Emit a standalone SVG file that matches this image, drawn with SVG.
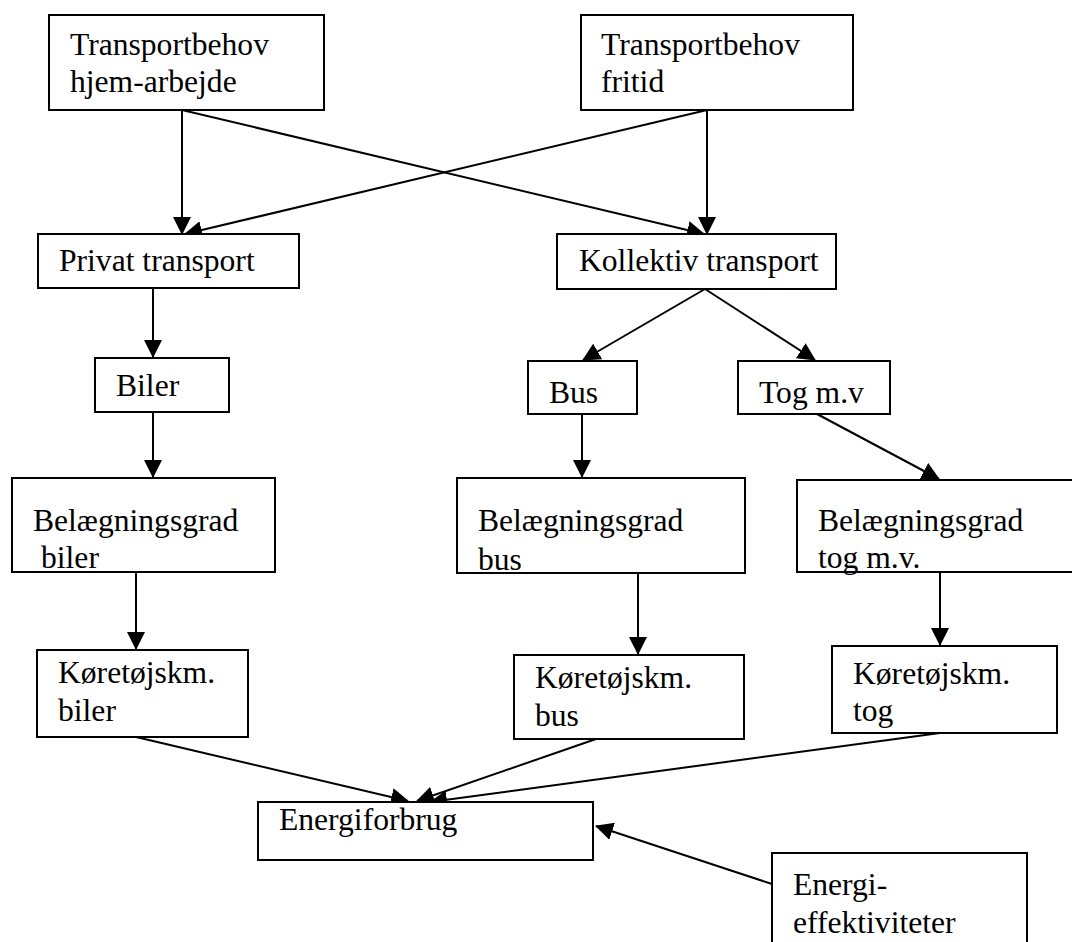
<svg xmlns="http://www.w3.org/2000/svg" width="1072" height="942" viewBox="0 0 1072 942">
  <style>
    .box { fill: #ffffff; stroke: #000000; stroke-width: 2; }
    .lbl { font-family: "Liberation Serif", "Times New Roman", serif; font-size: 31.6px; fill: #000000; }
    .edge { fill: none; stroke: #000000; stroke-width: 2; marker-end: url(#arrow); }
  </style>
  <defs>
    <marker id="arrow" viewBox="0 0 18 18" refX="17" refY="9" markerWidth="18" markerHeight="18" markerUnits="userSpaceOnUse" orient="auto">
      <path d="M0,0 L18,9 L0,18 Z" fill="#000000"/>
    </marker>
  </defs>
  <rect width="1072" height="942" fill="#ffffff"/>

  <!-- connectors -->
  <g id="connectors">
    <line class="edge" x1="182" y1="110" x2="182" y2="234"/>
    <line class="edge" x1="182" y1="110" x2="704" y2="234"/>
    <line class="edge" x1="707" y1="110" x2="185" y2="234"/>
    <line class="edge" x1="707" y1="110" x2="707" y2="234"/>
    <line class="edge" x1="153" y1="288" x2="153" y2="357"/>
    <line class="edge" x1="153" y1="412" x2="153" y2="477"/>
    <line class="edge" x1="705" y1="289" x2="583" y2="360"/>
    <line class="edge" x1="705" y1="289" x2="815" y2="360"/>
    <line class="edge" x1="582" y1="414" x2="582" y2="477"/>
    <line class="edge" x1="817" y1="414" x2="939" y2="479"/>
    <line class="edge" x1="136" y1="572" x2="136" y2="649"/>
    <line class="edge" x1="638" y1="573" x2="638" y2="654"/>
    <line class="edge" x1="940" y1="572" x2="940" y2="645"/>
    <line class="edge" x1="136" y1="737" x2="408" y2="801"/>
    <line class="edge" x1="596" y1="739" x2="417" y2="801"/>
    <line class="edge" x1="940" y1="733" x2="430" y2="802"/>
    <line class="edge" x1="772" y1="884" x2="596" y2="826"/>
  </g>

  <g id="n-hjem-arbejde">
    <rect class="box" x="49" y="15" width="275" height="95"/>
    <text class="lbl" x="70" y="55">Transportbehov</text>
    <text class="lbl" x="70" y="92">hjem-arbejde</text>
  </g>
  <g id="n-fritid">
    <rect class="box" x="581" y="15" width="272" height="95"/>
    <text class="lbl" x="601" y="55">Transportbehov</text>
    <text class="lbl" x="601" y="92">fritid</text>
  </g>
  <g id="n-privat">
    <rect class="box" x="38" y="234" width="261" height="54"/>
    <text class="lbl" x="59" y="271">Privat transport</text>
  </g>
  <g id="n-kollektiv">
    <rect class="box" x="557" y="234" width="279" height="55"/>
    <text class="lbl" x="579" y="271">Kollektiv transport</text>
  </g>
  <g id="n-biler">
    <rect class="box" x="95" y="358" width="134" height="54"/>
    <text class="lbl" x="116" y="396">Biler</text>
  </g>
  <g id="n-bus">
    <rect class="box" x="528" y="361" width="109" height="53"/>
    <text class="lbl" x="549" y="403">Bus</text>
  </g>
  <g id="n-tog">
    <rect class="box" x="738" y="361" width="152" height="53"/>
    <text class="lbl" x="759" y="403">Tog m.v</text>
  </g>
  <g id="n-bel-biler">
    <rect class="box" x="12" y="478" width="263" height="94"/>
    <text class="lbl" x="33" y="531">Belægningsgrad</text>
    <text class="lbl" x="41" y="568">biler</text>
  </g>
  <g id="n-bel-bus">
    <rect class="box" x="457" y="478" width="288" height="95"/>
    <text class="lbl" x="478" y="531">Belægningsgrad</text>
    <text class="lbl" x="478" y="570">bus</text>
  </g>
  <g id="n-bel-tog">
    <rect class="box" x="797" y="480" width="285" height="92"/>
    <text class="lbl" x="818" y="531">Belægningsgrad</text>
    <text class="lbl" x="818" y="568">tog m.v.</text>
  </g>
  <g id="n-km-biler">
    <rect class="box" x="37" y="650" width="211" height="87"/>
    <text class="lbl" x="58" y="683">Køretøjskm.</text>
    <text class="lbl" x="58" y="721">biler</text>
  </g>
  <g id="n-km-bus">
    <rect class="box" x="514" y="655" width="230" height="84"/>
    <text class="lbl" x="535" y="688">Køretøjskm.</text>
    <text class="lbl" x="535" y="726">bus</text>
  </g>
  <g id="n-km-tog">
    <rect class="box" x="832" y="646" width="225" height="87"/>
    <text class="lbl" x="853" y="684">Køretøjskm.</text>
    <text class="lbl" x="853" y="721">tog</text>
  </g>
  <g id="n-energiforbrug">
    <rect class="box" x="258" y="802" width="335" height="58"/>
    <text class="lbl" x="279" y="830">Energiforbrug</text>
  </g>
  <g id="n-effektivitet">
    <rect class="box" x="772" y="853" width="255" height="100"/>
    <text class="lbl" x="793" y="895">Energi-</text>
    <text class="lbl" x="793" y="933">effektiviteter</text>
  </g>
</svg>
